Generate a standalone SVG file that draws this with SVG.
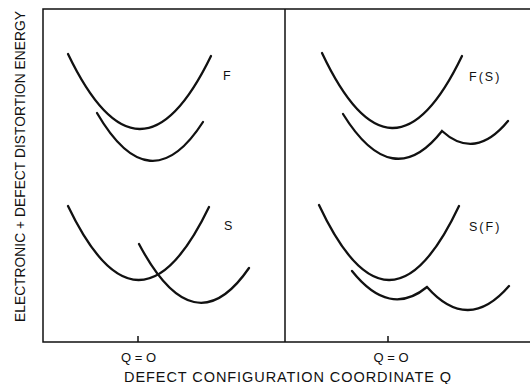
<svg xmlns="http://www.w3.org/2000/svg" width="530" height="384" viewBox="0 0 530 384">
<style>
.frame{fill:none;stroke:#111;stroke-width:1.5}
.curve{fill:none;stroke:#111;stroke-width:2.3;stroke-linecap:round;stroke-linejoin:miter}
.lbl{font-family:"Liberation Sans",Arial,sans-serif;fill:#111;font-size:12.5px;letter-spacing:2px}
.ax{font-family:"Liberation Sans",Arial,sans-serif;fill:#111;font-size:14.5px}
.vax{font-family:"Liberation Sans",Arial,sans-serif;fill:#111;font-size:13.8px}
.q{font-family:"Liberation Sans",Arial,sans-serif;fill:#111;font-size:13px;text-anchor:middle}
</style>
<rect width="530" height="384" fill="#fff"/>
<g id="axes">
<path class="frame" d="M530,9 H43 V342 H530 M285,9 V342 M138,336 V342 M388,336 V342"/>
<text class="q" x="138.5" y="362">Q = O</text>
<text class="q" x="391" y="362">Q = O</text>
<text class="ax" x="124" y="382" textLength="327" lengthAdjust="spacing">DEFECT CONFIGURATION COORDINATE Q</text>
<text class="vax" transform="translate(24.5,322) rotate(-90)" x="0" y="0" textLength="311" lengthAdjust="spacing">ELECTRONIC + DEFECT DISTORTION ENERGY</text>
</g>
<g id="panel-F">
<path class="curve" d="M68,54 Q139.5,203 211,56"/>
<path class="curve" d="M97,113 Q150,204 203,122"/>
<text class="lbl" x="223" y="80">F</text>
</g>
<g id="panel-FS">
<path class="curve" d="M322,53 Q392,201.5 462,56"/>
<path class="curve" d="M343,114 Q392.5,194 442,131 Q475,161 508,121"/>
<text class="lbl" x="469" y="81">F(S)</text>
</g>
<g id="panel-S">
<path class="curve" d="M68,206 Q138.5,353.5 209,207"/>
<path class="curve" d="M139,244 Q194,348 249,268"/>
<text class="lbl" x="224" y="229.5">S</text>
</g>
<g id="panel-SF">
<path class="curve" d="M319,205 Q389,354.5 459,206"/>
<path class="curve" d="M352,271 Q389.5,318 427,287 Q468,333.5 509,286"/>
<text class="lbl" x="469" y="231">S(F)</text>
</g>
</svg>
